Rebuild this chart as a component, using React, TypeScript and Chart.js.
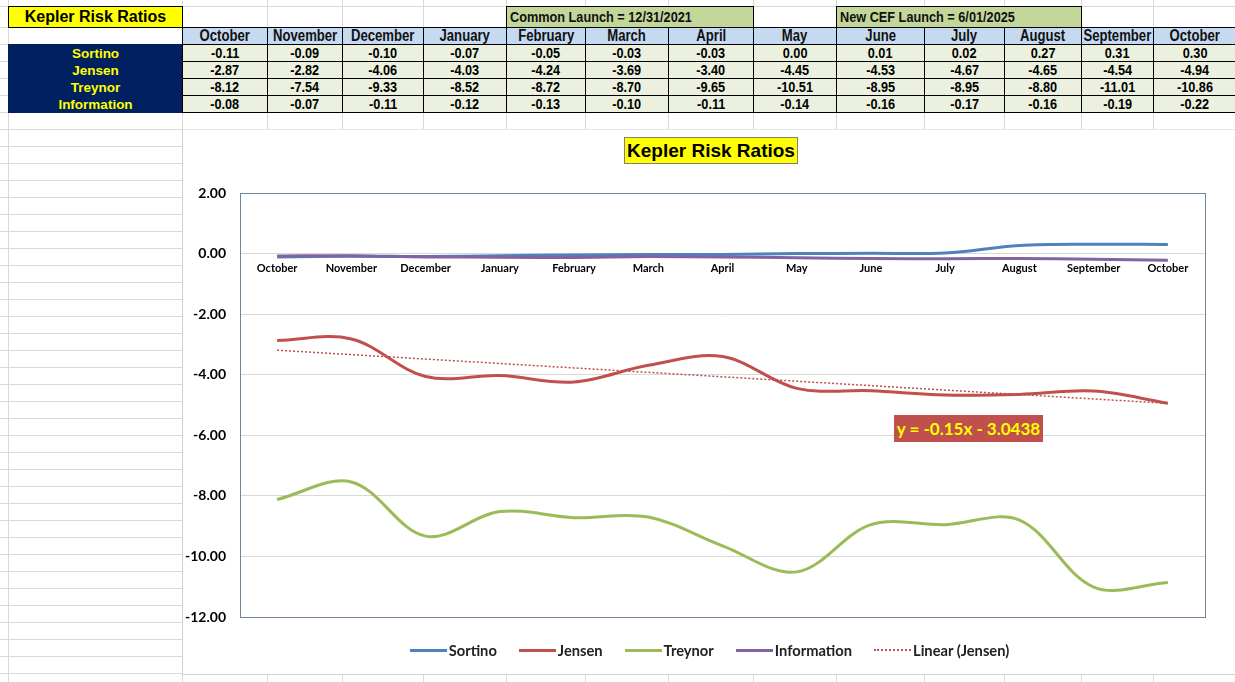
import React, { useEffect, useRef } from 'react';
import Chart from 'chart.js/auto';

const months = ['October', 'November', 'December', 'January', 'February', 'March', 'April', 'May', 'June', 'July', 'August', 'September', 'October'];
const sortino = [-0.11, -0.09, -0.10, -0.07, -0.05, -0.03, -0.03, 0.00, 0.01, 0.02, 0.27, 0.31, 0.30];
const jensen = [-2.87, -2.82, -4.06, -4.03, -4.24, -3.69, -3.40, -4.45, -4.53, -4.67, -4.65, -4.54, -4.94];
const treynor = [-8.12, -7.54, -9.33, -8.52, -8.72, -8.70, -9.65, -10.51, -8.95, -8.95, -8.80, -11.01, -10.86];
const information = [-0.08, -0.07, -0.11, -0.12, -0.13, -0.10, -0.11, -0.14, -0.16, -0.17, -0.16, -0.19, -0.22];
const yMin = -12;
const yMax = 2;
const yStep = 2;
const trendLabel = 'y = -0.15x - 3.0438';
const commonLaunch = 'Common Launch = 12/31/2021';
const cefLaunch = 'New CEF Launch = 6/01/2025';

const COLORS = { sortino: '#4f81bd', jensen: '#c0504d', treynor: '#9bbb59', information: '#8064a2' };

// sheet geometry
const COLS = [8, 182, 267, 342, 423, 506, 585, 668, 753, 836, 924, 1004, 1081, 1153, 1236];
const ROWS = [6, 27, 44, 61, 78, 95, 112];
const ARIAL = '"Liberation Sans", Arial, sans-serif';
const CHART_FONT = 'Lato, "Open Sans", sans-serif';

// least squares fit of the Jensen series, x = 1..n like Excel
function linearTrend(values: number[]) {
  const n = values.length;
  const xs = values.map((_, i) => i + 1);
  const mx = xs.reduce((a, b) => a + b, 0) / n;
  const my = values.reduce((a, b) => a + b, 0) / n;
  let sxy = 0, sxx = 0;
  xs.forEach((x, i) => { sxy += (x - mx) * (values[i] - my); sxx += (x - mx) * (x - mx); });
  const slope = sxy / sxx;
  const icpt = my - slope * mx;
  return xs.map(x => slope * x + icpt);
}

const plotBorder = {
  id: 'plotBorder',
  beforeDatasetsDraw(chart: any) {
    const { ctx, chartArea: a } = chart;
    ctx.save();
    ctx.strokeStyle = '#6f879c';
    ctx.lineWidth = 1;
    ctx.strokeRect(Math.round(a.left) + 0.5, Math.round(a.top) + 0.5, Math.round(a.right - a.left), Math.round(a.bottom - a.top));
    ctx.restore();
  },
};

// Arial Narrow is not installed, so squeeze Arial instead
const narrow = (text: string, left = false) => (
  <span style={{ display: 'inline-block', transform: 'scaleX(0.82)', transformOrigin: left ? 'left center' : 'center center' }}>{text}</span>
);

const cell = (x0: number, x1: number, y0: number, y1: number, style: React.CSSProperties, content?: React.ReactNode, key?: string) => (
  <div
    key={key}
    style={{
      position: 'absolute', left: x0, top: y0, width: x1 - x0 + 1, height: y1 - y0 + 1,
      boxSizing: 'border-box', display: 'flex', alignItems: 'center', justifyContent: 'center',
      fontWeight: 'bold', whiteSpace: 'nowrap', overflow: 'hidden', fontFamily: ARIAL, ...style,
    }}
  >
    {content}
  </div>
);

const RiskTable: React.FC = () => {
  const rows = [
    { name: 'Sortino', data: sortino },
    { name: 'Jensen', data: jensen },
    { name: 'Treynor', data: treynor },
    { name: 'Information', data: information },
  ];
  const out: React.ReactNode[] = [];
  const launch: React.CSSProperties = { background: '#c4d79b', border: '1px solid #000', fontSize: 15.5, justifyContent: 'flex-start', paddingLeft: 3, color: '#111' };
  out.push(cell(COLS[0], COLS[1], ROWS[0], ROWS[1], { background: '#ffff00', border: '1px solid #000', fontSize: 16, color: '#000' }, 'Kepler Risk Ratios', 'title'));
  out.push(cell(COLS[5], COLS[8], ROWS[0], ROWS[1], launch, narrow(commonLaunch, true), 'cl'));
  out.push(cell(COLS[9], COLS[12], ROWS[0], ROWS[1], launch, narrow(cefLaunch, true), 'cef'));
  months.forEach((m, i) => {
    out.push(cell(COLS[i + 1], COLS[i + 2], ROWS[1], ROWS[2], { background: '#c5d9f1', border: '1px solid #000', fontSize: 16, color: '#111' }, narrow(m), 'h' + i));
  });
  rows.forEach((r, ri) => {
    out.push(cell(COLS[0], COLS[1], ROWS[ri + 2], ROWS[ri + 3], { background: '#002060', fontSize: 13.5, color: '#ffff00' }, r.name, 'l' + ri));
    r.data.forEach((v, i) => {
      out.push(cell(COLS[i + 1], COLS[i + 2], ROWS[ri + 2], ROWS[ri + 3], { background: '#ebf1de', border: '1px solid #000', fontSize: 15.5, color: '#000' }, narrow(v.toFixed(2)), 'd' + ri + '-' + i));
    });
  });
  return <>{out}</>;
};

const SheetGrid: React.FC = () => {
  const lines: React.ReactNode[] = [];
  COLS.forEach((x, i) => lines.push(<div key={'c' + i} style={{ position: 'absolute', left: x, top: 0, width: 1, height: 682, background: '#d9d9d9' }} />));
  const rowLines: number[] = [...ROWS];
  for (let y = 129; y < 682; y += 17) rowLines.push(y);
  rowLines.forEach((y, i) => lines.push(<div key={'r' + i} style={{ position: 'absolute', left: 0, top: y, width: 1235, height: 1, background: '#d9d9d9' }} />));
  return <>{lines}</>;
};

const legendItems = [
  { label: 'Sortino', color: COLORS.sortino, dotted: false },
  { label: 'Jensen', color: COLORS.jensen, dotted: false },
  { label: 'Treynor', color: COLORS.treynor, dotted: false },
  { label: 'Information', color: COLORS.information, dotted: false },
  { label: 'Linear (Jensen)', color: COLORS.jensen, dotted: true },
];

const App: React.FC = () => {
  const canvasRef = useRef<HTMLCanvasElement | null>(null);
  const chartRef = useRef<Chart | null>(null);

  useEffect(() => {
    if (!canvasRef.current) return;
    const trend = linearTrend(jensen);
    const line = (label: string, data: number[], color: string, order: number) => ({
      label, data, borderColor: color, backgroundColor: color, borderWidth: 3,
      pointRadius: 0, tension: 0.35, fill: false, order,
    });
    chartRef.current = new Chart(canvasRef.current, {
      type: 'line',
      data: {
        labels: months,
        datasets: [
          line('Sortino', sortino, COLORS.sortino, 5),
          line('Jensen', jensen, COLORS.jensen, 4),
          line('Treynor', treynor, COLORS.treynor, 3),
          line('Information', information, COLORS.information, 2),
          {
            label: 'Linear (Jensen)', data: trend, borderColor: COLORS.jensen, borderWidth: 1.5,
            borderDash: [2, 2], pointRadius: 0, tension: 0, fill: false, order: 1,
          } as any,
        ],
      },
      options: {
        animation: false,
        responsive: false,
        maintainAspectRatio: false,
        layout: { padding: { top: 63, right: 30, bottom: 57, left: 0 } },
        plugins: { legend: { display: false }, title: { display: false }, tooltip: { enabled: false } },
        scales: {
          x: {
            position: { y: 0 } as any,
            offset: true,
            grid: { display: false, drawTicks: false },
            border: { display: false },
            ticks: { color: '#000', padding: 8, maxRotation: 0, autoSkip: false, font: { family: CHART_FONT, size: 11, weight: 'bold' } },
          },
          y: {
            min: yMin,
            max: yMax,
            afterFit: (s: any) => { s.width = 57; },
            grid: { color: '#d9d9d9', drawTicks: false },
            border: { display: false },
            ticks: {
              stepSize: yStep, padding: 14, color: '#000',
              font: { family: CHART_FONT, size: 14, weight: 'bold' },
              callback: (v: any) => Number(v).toFixed(2),
            },
          },
        },
      },
      plugins: [plotBorder],
    });
    return () => {
      if (chartRef.current) chartRef.current.destroy();
    };
  }, []);

  return (
    <div style={{ position: 'fixed', left: 0, top: 0, width: 1235, height: 682, background: '#fff', overflow: 'hidden', fontFamily: ARIAL }}>
      <SheetGrid />
      <RiskTable />
      <div style={{ position: 'absolute', left: 182, top: 129, width: 1060, height: 544, background: '#fff', borderLeft: '1px solid #d0d0d0', borderTop: '1px solid #e6e6e6', borderBottom: '1px solid #d0d0d0' }}>
        <canvas ref={canvasRef} width={1052} height={544} style={{ position: 'absolute', left: 0, top: 0, width: 1052, height: 544 }} />
        <div style={{ position: 'absolute', left: 441, top: 7, width: 174, height: 27, boxSizing: 'border-box', background: '#ffff00', border: '1px solid #7f7f7f', display: 'flex', alignItems: 'center', justifyContent: 'center', fontWeight: 'bold', fontSize: 19, color: '#000', whiteSpace: 'nowrap' }}>
          Kepler Risk Ratios
        </div>
        <div style={{ position: 'absolute', left: 711, top: 285, width: 149, height: 27, background: COLORS.jensen, display: 'flex', alignItems: 'center', justifyContent: 'center', fontFamily: CHART_FONT, fontWeight: 'bold', fontSize: 17, color: '#ffff00', whiteSpace: 'nowrap' }}>
          {trendLabel}
        </div>
        <div style={{ position: 'absolute', left: 0, top: 510, width: 1053, height: 20, display: 'flex', justifyContent: 'center', alignItems: 'center', fontFamily: CHART_FONT, fontWeight: 'bold', fontSize: 14.7, color: '#222' }}>
          {legendItems.map(it => (
            <div key={it.label} style={{ display: 'flex', alignItems: 'center', margin: '0 11px' }}>
              <span style={{ display: 'inline-block', width: 37, height: 0, borderTop: it.dotted ? `2px dotted ${it.color}` : `3px solid ${it.color}`, marginRight: 2 }} />
              <span>{it.label}</span>
            </div>
          ))}
        </div>
      </div>
    </div>
  );
};

export default App;
